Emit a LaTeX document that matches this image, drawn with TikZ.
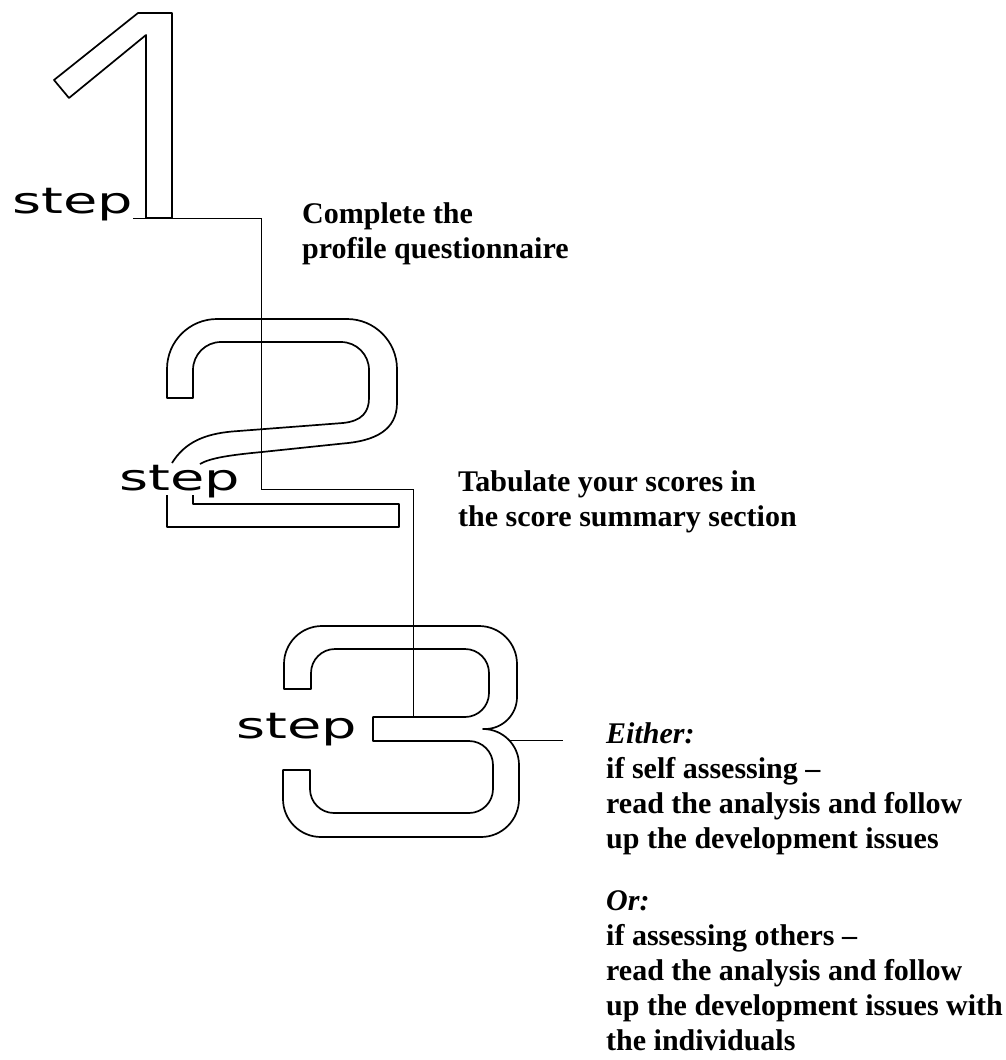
\documentclass[tikz,border=0pt]{standalone}
\usepackage{fontspec}
\setmainfont{Liberation Serif}
\newfontfamily\stepfont[FakeStretch=1.55]{DejaVu Sans}
\tikzset{digit/.style={line width=1.7pt,line join=round},link/.style={line width=.7pt},
stepword/.style={font=\stepfont\fontsize{36}{36}\selectfont,inner sep=0pt,anchor=base west},
note/.style={font=\bfseries\fontsize{30}{35}\selectfont,align=left,inner sep=0pt,anchor=base west}}
\begin{document}
\begin{tikzpicture}[x=1pt,y=-1pt]
\useasboundingbox(0,0) rectangle (1006,1060);
\draw[digit](138,13)--(172,13)--(172,218)--(146,218)--(146,35)--(69,98)--(54,80)--cycle;
\draw[digit](172,463) .. controls (185,442) and (205,434) .. (232,431.5)--(343,423) .. controls (362,421) and (369,412) .. (369,398)--(369,370) arc[start angle=0,end angle=-90,radius=28]--(221,342) arc[start angle=270,end angle=180,radius=28]--(193,398)--(167,398)--(167,369) arc[start angle=180,end angle=270,radius=50]--(347,319) arc[start angle=270,end angle=360,radius=50]--(397,403) .. controls (397,430) and (375,441) .. (343,443.5)--(262,452) .. controls (230,455) and (210,458) .. (200,464);
\draw[digit](193,495)--(193,504)--(399,504)--(399,527)--(167,527)--(167,495);
\draw[digit](284,689)--(284,664) arc[start angle=180,end angle=270,radius=38]--(479,626) arc[start angle=270,end angle=360,radius=38]--(517,697) arc[start angle=0,end angle=90,radius=32]--(483,729) arc[start angle=270,end angle=360,radius=36]--(519,799) arc[start angle=0,end angle=90,radius=38]--(321,837) arc[start angle=90,end angle=180,radius=38]--(283,770)--(310,770)--(310,789) arc[start angle=180,end angle=90,radius=24]--(469,813) arc[start angle=90,end angle=0,radius=24]--(493,765) arc[start angle=0,end angle=-90,radius=24]--(373,741)--(373,717)--(465,717) arc[start angle=90,end angle=0,radius=24]--(489,673) arc[start angle=0,end angle=-90,radius=24]--(335,649) arc[start angle=270,end angle=180,radius=24]--(311,689)--cycle;
\node[stepword](s1) at (12,213){step};
\node[stepword](s2) at (119,490){step};
\node[stepword](s3) at (236,738){step};
\node[note](t1) at (302,258){Complete the\\profile questionnaire};
\node[note](t2) at (458,526){Tabulate your scores in\\the score summary section};
\node[note](t3) at (606,1050){\textit{Either:}\\if self assessing –\\read the analysis and follow\\up the development issues\\[27pt]\textit{Or:}\\if assessing others –\\read the analysis and follow\\up the development issues with\\the individuals};
\coordinate(one) at (172,218);\coordinate(k1) at (261,489);\coordinate(mid3) at (413,717);
\coordinate(tip3) at (510,740);\coordinate(e3) at (563,740);
\draw[link](s1.base east|-one)-|(k1)-|(mid3);
\draw[link](tip3)--(e3);
\end{tikzpicture}
\end{document}
